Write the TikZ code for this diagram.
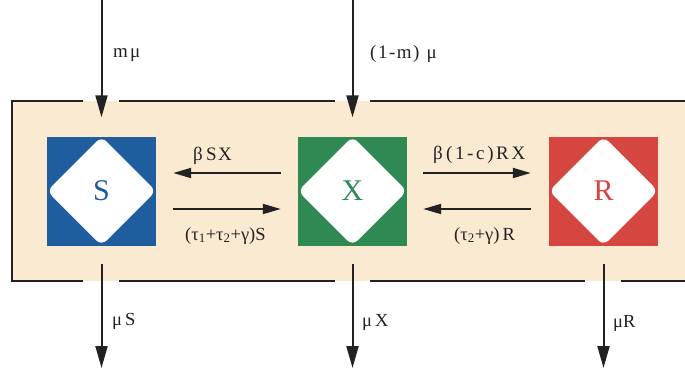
\documentclass[tikz,border=0pt]{standalone}
\usepackage{fontspec}
\setmainfont{Liberation Serif}
\usetikzlibrary{arrows.meta}
\definecolor{sblue}{HTML}{1F5E9E}
\definecolor{xgreen}{HTML}{2E8A52}
\definecolor{rred}{HTML}{D54640}
\definecolor{beige}{HTML}{FAEAD1}
\definecolor{ink}{HTML}{222222}
\begin{document}
\begin{tikzpicture}[x=1pt,y=-1pt,
  comp/.style={rectangle, minimum width=109pt, minimum height=109pt, inner sep=0pt,
    fill=#1, text=#1, font=\fontsize{30}{31}\selectfont,
    path picture={\fill[white, rounded corners=7pt]
      (path picture bounding box.north) -- (path picture bounding box.east) --
      (path picture bounding box.south) -- (path picture bounding box.west) -- cycle;}},
  arr/.style={draw=ink, line width=2pt, -{Triangle[length=18pt,width=10pt]}},
  vtip/.style={draw=ink, line width=2pt, -{Triangle[length=22pt,width=12pt]}},
  border/.style={draw=ink, line width=2.4pt},
  lab/.style={font=\fontsize{18.5}{20}\selectfont, text=ink, inner sep=0pt, anchor=base west},
  wide/.style={lab, font=\fontsize{19}{20}\selectfont\addfontfeature{LetterSpace=#1}}
]
\useasboundingbox (0,0) rectangle (685,368);
\fill[beige] (12,101) rectangle (690,281);
\draw[border] (83,101) -- (12,101) -- (12,281) -- (83,281);
\draw[border] (119,101) -- (335,101);
\draw[border] (370,101) -- (690,101);
\draw[border] (119,281) -- (335,281);
\draw[border] (370,281) -- (585,281);
\draw[border] (621,281) -- (690,281);

\node[comp=sblue] (S) at (101.5,191) {S};
\node[comp=xgreen] (X) at (352.5,191) {X};
\node[comp=rred] (R) at (603.5,191) {R};

\coordinate (inS) at (101.5,0);
\coordinate (inX) at (352.5,0);
\coordinate (outS) at (101.5,368);
\coordinate (outX) at (352.5,368);
\coordinate (outR) at (603.5,368);

\draw[vtip, shorten >=19pt] (inS) -- (S.north);
\draw[vtip, shorten >=19pt] (inX) -- (X.north);
\draw[vtip, shorten <=18pt] (S.south) -- (outS);
\draw[vtip, shorten <=18pt] (X.south) -- (outX);
\draw[vtip, shorten <=18pt] (R.south) -- (outR);

\draw[arr] ([shift={(-17,-18)}]X.west) -- ([shift={(17,-18)}]S.east);
\draw[arr] ([shift={(17,18)}]S.east) -- ([shift={(-17,18)}]X.west);
\draw[arr] ([shift={(16,-18)}]X.east) -- ([shift={(-18,-18)}]R.west);
\draw[arr] ([shift={(-18,18)}]R.west) -- ([shift={(16,18)}]X.east);

\node[wide=12] (lmS) at (113,57) {mμ};
\node[wide=8] (lmX) at (370,58) {(1-m)\hspace{7pt}μ};
\node[wide=8] (lbSX) at (193,160) {β\,SX};
\node[lab] (ltS) at (185,240) {(τ\textsubscript{1}+τ\textsubscript{2}+γ)S};
\node[wide=14] (lbRX) at (433,159) {β\,(1-c)RX};
\node[lab] (ltR) at (454,240) {(τ\textsubscript{2}+γ)\,R};
\node[lab] (lmuS) at (112,325) {μ\,S};
\node[lab] (lmuX) at (362,326) {μ\,X};
\node[lab] (lmuR) at (613,327) {μR};
\end{tikzpicture}
\end{document}
